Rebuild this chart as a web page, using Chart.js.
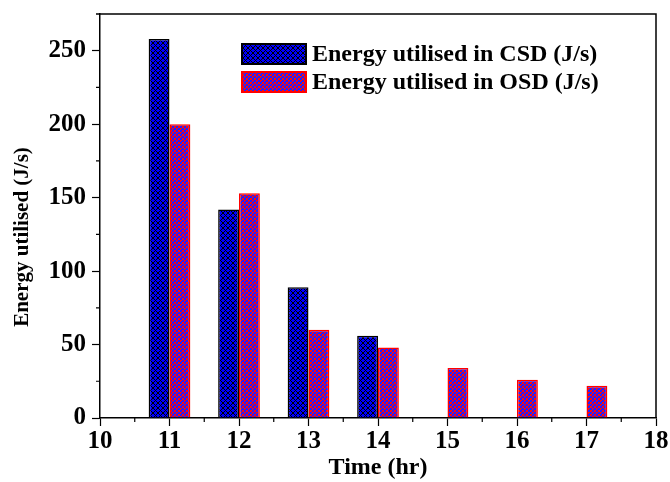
<!DOCTYPE html>
<html>
<head>
<meta charset="utf-8">
<script src="https://cdn.jsdelivr.net/npm/chart.js@4/dist/chart.umd.min.js"></script>
<style>
  html, body { margin: 0; padding: 0; background: #ffffff; }
  #wrap { width: 670px; height: 482px; }
</style>
</head>
<body>
<div id="wrap"><canvas id="c" width="670" height="482"></canvas></div>
<script>
// Hourly energy figures for the two schemes
const hours = [11, 12, 13, 14, 15, 16, 17];
const csdEnergy = [258, 142, 89, 56, null, null, null];
const osdEnergy = [200, 153, 60, 48, 34, 26, 22];
const seriesLabels = ['Energy utilised in CSD (J/s)', 'Energy utilised in OSD (J/s)'];
const xTickValues = [10, 11, 12, 13, 14, 15, 16, 17, 18];
const yTickValues = [0, 50, 100, 150, 200, 250];
const xTitle = 'Time (hr)';
const yTitle = 'Energy utilised (J/s)';

const FONT = '"Liberation Serif", "Times New Roman", serif';

// Diagonal cross-hatch tile (CSD fill)
function crossHatch(base, line) {
  const n = 5;
  const t = document.createElement('canvas');
  t.width = n; t.height = n;
  const g = t.getContext('2d');
  g.fillStyle = base;
  g.fillRect(0, 0, n, n);
  g.fillStyle = line;
  for (let x = 0; x < n; x++) {
    for (let y = 0; y < n; y++) {
      if ((x - y + n) % n === 0 || (x + y) % n === 0) g.fillRect(x, y, 1, 1);
    }
  }
  return g.createPattern(t, 'repeat');
}
// Small checker tile (OSD fill)
function checker(a, b) {
  const t = document.createElement('canvas');
  t.width = 4; t.height = 4;
  const g = t.getContext('2d');
  g.fillStyle = a;
  g.fillRect(0, 0, 4, 4);
  g.fillStyle = b;
  g.fillRect(0, 0, 2, 2);
  g.fillRect(2, 2, 2, 2);
  g.fillStyle = a;
  g.fillRect(1, 1, 1, 1);
  return g.createPattern(t, 'repeat');
}
const csdFill = crossHatch('#0000ff', '#000000');
const osdFill = checker('#2020ff', '#ff0a0a');

// Frame, minor ticks, rotated y title and the in-plot legend
const decorations = {
  id: 'decorations',
  afterDraw(chart) {
    const { ctx, chartArea: a, scales } = chart;
    ctx.save();
    ctx.strokeStyle = '#000';
    ctx.lineWidth = 1.5;
    ctx.beginPath();
    ctx.moveTo(a.left - 4, a.top); ctx.lineTo(a.right, a.top); ctx.lineTo(a.right, a.bottom);
    ctx.stroke();

    ctx.lineWidth = 1.2;
    ctx.beginPath();
    for (let i = 0; i < xTickValues.length - 1; i++) {
      const px = scales.x.getPixelForValue((xTickValues[i] + xTickValues[i + 1]) / 2);
      ctx.moveTo(px, a.bottom); ctx.lineTo(px, a.bottom + 4);
    }
    for (let i = 0; i < yTickValues.length - 1; i++) {
      const py = scales.y.getPixelForValue((yTickValues[i] + yTickValues[i + 1]) / 2);
      ctx.moveTo(a.left, py); ctx.lineTo(a.left - 4, py);
    }
    ctx.stroke();

    ctx.fillStyle = '#000';
    ctx.font = 'bold 21px ' + FONT;
    ctx.textAlign = 'center';
    ctx.textBaseline = 'middle';
    ctx.translate(23, 237);
    ctx.rotate(-Math.PI / 2);
    ctx.fillText(yTitle, 0, 0);
    ctx.restore();

    ctx.save();
    ctx.font = 'bold 24px ' + FONT;
    ctx.textAlign = 'left';
    ctx.textBaseline = 'middle';
    chart.data.datasets.forEach((ds, i) => {
      const bx = 242, by = 44 + i * 28, bw = 64, bh = 20;
      ctx.fillStyle = ds.backgroundColor;
      ctx.fillRect(bx, by, bw, bh);
      ctx.strokeStyle = ds.borderColor;
      ctx.lineWidth = 2;
      ctx.strokeRect(bx, by, bw, bh);
      ctx.fillStyle = '#000';
      ctx.fillText(ds.label, 312, by + bh / 2 + 1);
    });
    ctx.restore();
  }
};

new Chart(document.getElementById('c'), {
  type: 'bar',
  data: {
    datasets: [
      {
        label: seriesLabels[0],
        data: hours.map((h, i) => ({ x: h, y: csdEnergy[i] })),
        backgroundColor: csdFill,
        borderColor: '#000000',
        borderWidth: 1.5
      },
      {
        label: seriesLabels[1],
        data: hours.map((h, i) => ({ x: h, y: osdEnergy[i] })),
        backgroundColor: osdFill,
        borderColor: '#ff0000',
        borderWidth: 1.5
      }
    ]
  },
  options: {
    responsive: false,
    animation: false,
    devicePixelRatio: 1,
    categoryPercentage: 0.6,
    barPercentage: 1.0,
    layout: { padding: { top: 14, right: 14, left: 0, bottom: 0 } },
    plugins: {
      legend: { display: false },
      tooltip: { enabled: false }
    },
    scales: {
      x: {
        type: 'linear',
        min: 10,
        max: 18,
        offset: false,
        afterBuildTicks: s => { s.ticks = xTickValues.map(v => ({ value: v })); },
        afterFit: s => { s.height = 64; s.paddingLeft = 0; s.paddingRight = 0; },
        grid: { offset: false, drawOnChartArea: false, tickLength: 8, color: '#000', tickWidth: 1.2 },
        border: { color: '#000', width: 1.5 },
        ticks: { color: '#000', padding: 1, maxRotation: 0, font: { family: FONT, size: 25, weight: 'bold' } },
        title: { display: true, text: xTitle, color: '#000', padding: { top: 0, bottom: 0 },
                 font: { family: FONT, size: 24, weight: 'bold' } }
      },
      y: {
        type: 'linear',
        min: 0,
        max: 275,
        afterBuildTicks: s => { s.ticks = yTickValues.map(v => ({ value: v })); },
        afterFit: s => { s.width = 100; s.paddingTop = 0; s.paddingBottom = 0; },
        grid: { drawOnChartArea: false, tickLength: 8, color: '#000', tickWidth: 1.2 },
        border: { color: '#000', width: 1.5 },
        ticks: { color: '#000', padding: 6, font: { family: FONT, size: 25, weight: 'bold' } }
      }
    }
  },
  plugins: [decorations]
});
</script>
</body>
</html>
